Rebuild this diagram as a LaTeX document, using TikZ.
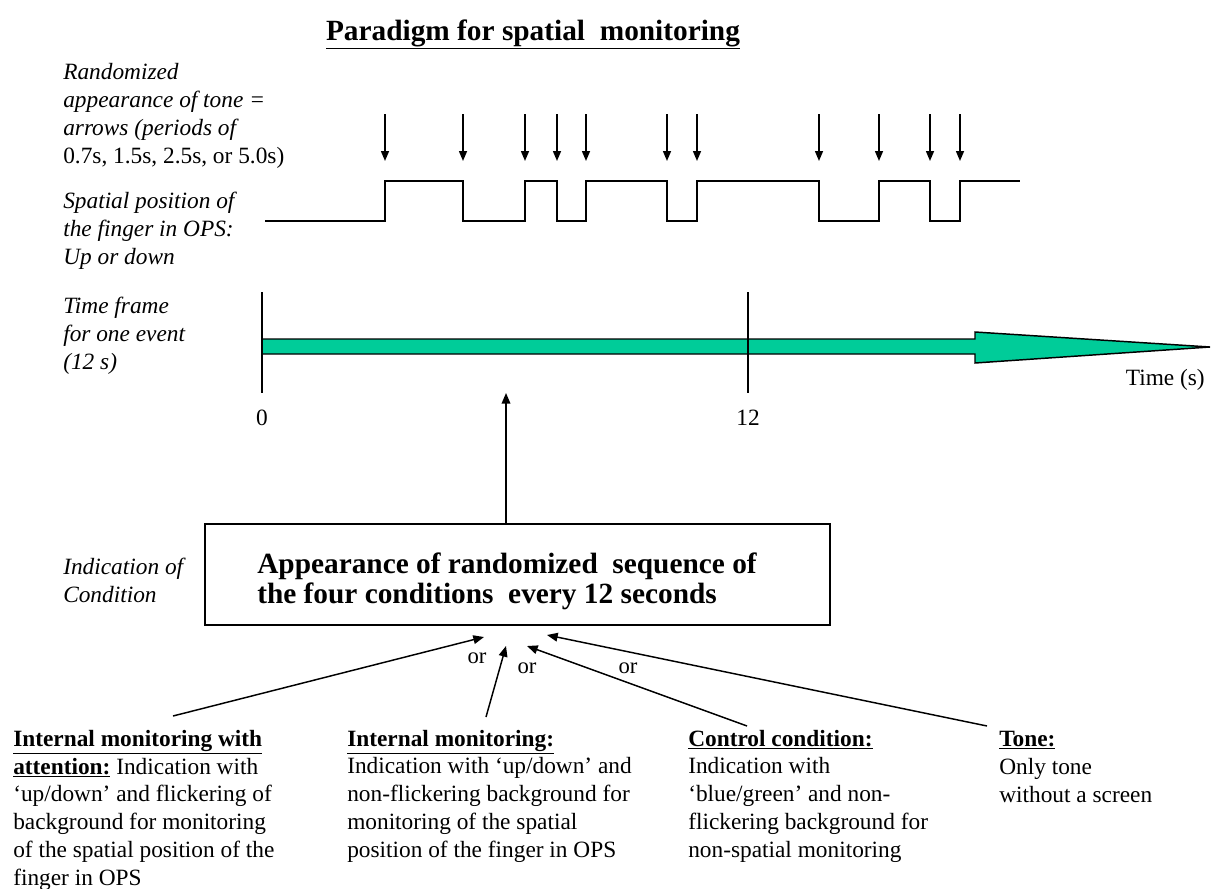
\documentclass[tikz,border=0pt]{standalone}
\usepackage{fontspec}
\setmainfont{Liberation Serif}
\usetikzlibrary{arrows.meta,calc}
\definecolor{timegreen}{RGB}{0,204,153}

\begin{document}
\begin{tikzpicture}[x=.75pt,y=-.75pt,every node/.style={inner sep=0pt}]
\tikzstyle{lbl}=[anchor=base west,align=left,font=\fontsize{17.5}{20.8}\selectfont\itshape]
\tikzstyle{cnd}=[anchor=base west,align=left,font=\fontsize{17.5}{20.8}\selectfont]
\tikzstyle{tone}=[line width=1.1pt,-{Triangle[length=7.5pt,width=6pt]}]
\tikzstyle{pick}=[line width=1.1pt,-{Triangle[length=8pt,width=6.5pt]}]
\tikzstyle{orlbl}=[font=\fontsize{17}{20}\selectfont]

\useasboundingbox (0,0) rectangle (1211,889);

\node[font=\fontsize{22}{26}\selectfont\bfseries,anchor=base] (title) at (533,40) {\underline{Paradigm for spatial~ monitoring}};

% left column (base = last line)
\node[lbl] (lbltone) at (63,163) {Randomized\\appearance of tone =\\arrows (periods of\\{\upshape 0.7s, 1.5s, 2.5s, or 5.0s)}};
\node[lbl] (lblpos) at (63,264) {Spatial position of\\the finger in OPS:\\Up or down};
\node[lbl] (lbltime) at (63,369) {Time frame\\for one event\\(12 s)};
\node[lbl] (lblcond) at (63,602) {Indication of\\Condition};

% tones
\foreach \x in {385,463,525,557,586,667,697,819,879,930,960} {
  \draw[tone] (\x,114) -- (\x,161);
}

% finger up/down
\draw[line width=1.3pt] (265,221) -- (385,221) -- (385,181) -- (463,181) -- (463,221)
  -- (525,221) -- (525,181) -- (557,181) -- (557,221) -- (586,221) -- (586,181)
  -- (667,181) -- (667,221) -- (697,221) -- (697,181) -- (819,181) -- (819,221)
  -- (879,221) -- (879,181) -- (930,181) -- (930,221) -- (960,221) -- (960,181) -- (1020,181);

% time axis
\draw[line width=1.1pt,fill=timegreen] (262,339) -- (975,339) -- (975,332) -- (1210,347)
  -- (975,363) -- (975,354) -- (262,354) -- cycle;
\draw[line width=.9pt] (262,292) -- (262,393);
\draw[line width=.9pt] (748,292) -- (748,393);
\node[cnd,anchor=base] (t0) at (262,425) {0};
\node[cnd,anchor=base] (t12) at (748,425) {12};
\node[cnd,anchor=base east] (tlab) at (1205,385) {Time (s)};

% condition box
\node[draw,line width=1.3pt,minimum width=468.75pt,minimum height=75.75pt] (cond) at (517.5,574.5) {};
\node[anchor=base west,align=left,font=\fontsize{22}{22.5}\selectfont\bfseries] (condtxt) at (257,603)
  {Appearance of randomized~ sequence of\\the four conditions~ every 12 seconds};
\coordinate (evt) at (506,393);
\draw[pick] (cond.north -| evt) -- (evt);

% the four conditions (base = last line)
\node[cnd] (c1) at (13,885) {\underline{\textbf{Internal monitoring with}}\\
  \underline{\textbf{attention:}} Indication with\\‘up/down’ and flickering of\\
  background for monitoring\\of the spatial position of the\\finger in OPS};
\node[cnd] (c2) at (347,857) {\underline{\textbf{Internal monitoring:}}\\
  Indication with ‘up/down’ and\\non-flickering background for\\monitoring of the spatial\\
  position of the finger in OPS};
\node[cnd] (c3) at (688,857) {\underline{\textbf{Control condition:}}\\Indication with\\
  ‘blue/green’ and non-\\flickering background for\\non-spatial monitoring};
\node[cnd] (c4) at (999,802) {\underline{\textbf{Tone:}}\\Only tone\\without a screen};

\coordinate (o1) at (484,637);
\coordinate (o2) at (506,646);
\coordinate (o3) at (527,646);
\coordinate (o4) at (547,635);
\draw[pick] ([shift={(160,-169)}]c1.base west) -- (o1);
\draw[pick] ([shift={(139,-140)}]c2.base west) -- (o2);
\draw[pick] ([shift={(59,-131)}]c3.base west) -- (o3);
\draw[pick] ([shift={(-12,-76)}]c4.base west) -- (o4);

\node[orlbl] (or1) at (477,658) {or};
\node[orlbl] (or2) at (527,668) {or};
\node[orlbl] (or3) at (628,668) {or};
\end{tikzpicture}
\end{document}
